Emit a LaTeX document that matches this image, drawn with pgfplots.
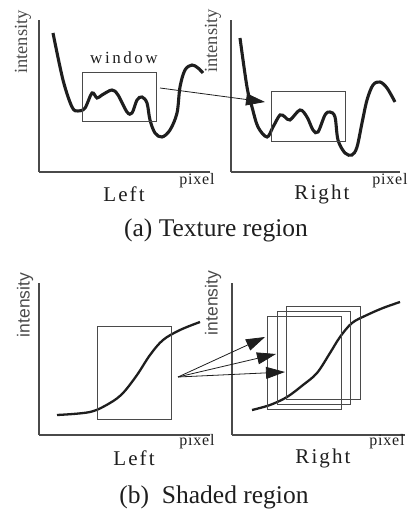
\documentclass[border=0pt]{standalone}
\usepackage{fontspec}
\setmainfont{Liberation Serif}
\newfontfamily\sansf{Liberation Sans}
\usepackage{pgfplots}
\pgfplotsset{compat=1.18}
\usetikzlibrary{arrows.meta}
\definecolor{ink}{HTML}{1E1E1E}
\definecolor{boxc}{HTML}{4A4A4A}
\pgfplotsset{
  panel/.style={
    axis lines=left,
    axis line style={-, line width=1.3pt, draw=boxc},
    ticks=none, clip=false, x=1pt, y=1pt,
    enlargelimits=false, anchor=south west,
  },
  curve/.style={smooth, tension=0.55, line width=3.1pt, ink, no markers},
  curveb/.style={smooth, tension=0.55, line width=2.3pt, ink, no markers},
  win/.style={line width=1pt, boxc, no markers},
}
\tikzset{
  ar/.style={line width=0.8pt, ink, -{Triangle[length=19pt,width=12pt]}},
  lab/.style={text=ink, font=\fontsize{21}{21}\selectfont\addfontfeature{LetterSpace=10}},
  pix/.style={text=ink, font=\fontsize{16}{16}\selectfont\addfontfeature{LetterSpace=5}},
  captext/.style={text=ink, font=\fontsize{25.5}{25.5}\selectfont},
  intS/.style={rotate=90, font=\fontsize{18.5}{18.5}\selectfont, text=boxc},
  intB/.style={rotate=90, font=\sansf\fontsize{17.5}{17.5}\selectfont, text=boxc},
}
\begin{document}
\begin{tikzpicture}
\path[use as bounding box] (0,0) rectangle (409pt,509pt);
% ---------- (a) left ----------
\begin{axis}[panel, at={(39pt,337pt)}, xmin=39, xmax=210, ymin=337, ymax=489]
\addplot[curve] coordinates {(53,476) (63,429) (72,402) (78,398) (85,401) (92,416) (97,411) (102,414) (112,419) (118,414) (127,397) (132,396) (137,409) (142,412) (147,406) (150,389) (155,376) (162,372) (170,379) (177,396) (180,422) (185,439) (192,444) (198,441) (203,436)};
\addplot[win] coordinates {(82,387) (156,387) (156,436) (82,436) (82,387)};
\end{axis}
% ---------- (a) right ----------
\begin{axis}[panel, at={(231pt,337pt)}, xmin=231, xmax=400, ymin=337, ymax=489]
\addplot[curve] coordinates {(240,471) (247,422) (252,402) (258,382) (267,372) (273,382) (280,394) (285,392) (290,389) (300,399) (307,392) (313,379) (318,377) (325,394) (330,397) (335,392) (338,369) (345,356) (352,354) (357,362) (362,386) (367,409) (373,424) (380,427) (387,421) (395,407)};
\addplot[win] coordinates {(271,367) (345,367) (345,417) (271,417) (271,367)};
\draw[ar] (axis cs:160,421) -- (axis cs:265,407);
\end{axis}
% ---------- (b) left ----------
\begin{axis}[panel, at={(39pt,74pt)}, xmin=39, xmax=210, ymin=74, ymax=226]
\addplot[curveb] coordinates {(57,94) (90,97) (110,106) (123,116) (137,134) (150,154) (163,169) (180,179) (200,187)};
\addplot[win] coordinates {(97,89) (171,89) (171,182) (97,182) (97,89)};
\end{axis}
% ---------- (b) right ----------
\begin{axis}[panel, at={(232pt,74pt)}, xmin=232, xmax=405, ymin=74, ymax=226]
\addplot[curveb] coordinates {(252,99) (270,104) (287,112) (303,124) (317,136) (330,156) (340,172) (352,186) (367,194) (383,201) (400,207)};
\addplot[win] coordinates {(267,99) (341,99) (341,192) (267,192) (267,99)};
\addplot[win] coordinates {(277,104) (350,104) (350,197) (277,197) (277,104)};
\addplot[win] coordinates {(286,109) (360,109) (360,202) (286,202) (286,109)};
\draw[ar] (axis cs:178,132) -- (axis cs:265,172);
\draw[ar] (axis cs:178,132) -- (axis cs:276,155);
\draw[ar] (axis cs:178,132) -- (axis cs:285,137);
\end{axis}
% ---------- texts ----------
\node[intS] at (23pt,467pt) {intensity};
\node[intS] at (213pt,468pt) {intensity};
\node[intB] at (25pt,204pt) {intensity};
\node[intB] at (213pt,206pt) {intensity};
\node[text=ink, font=\fontsize{17}{17}\selectfont\addfontfeature{LetterSpace=15}] at (124pt,451pt) {window};
\node[lab] at (124pt,315pt) {Left};
\node[lab] at (322pt,315pt) {Right};
\node[pix] at (197pt,328pt) {pixel};
\node[pix] at (390pt,328pt) {pixel};
\node[captext] at (216pt,279pt) {(a) Texture region};
\node[lab] at (134pt,51pt) {Left};
\node[lab] at (323pt,51pt) {Right};
\node[pix] at (197pt,67pt) {pixel};
\node[pix] at (387pt,67pt) {pixel};
\node[captext] at (214pt,12pt) {(b)\ \ Shaded region};
\end{tikzpicture}
\end{document}
